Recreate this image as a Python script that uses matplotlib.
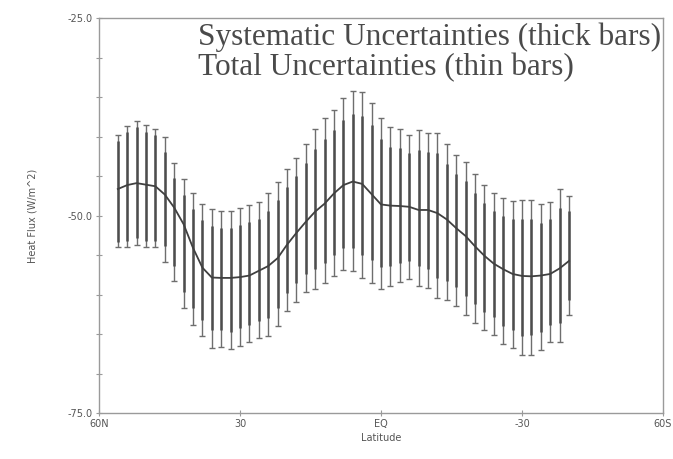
import numpy as np
import matplotlib
matplotlib.use("Agg")
import matplotlib.pyplot as plt

# Latitude of each estimate (degrees, north positive)
latitudes = list(range(56, -41, -2))

# Mean heat flux (W/m^2)
mean_flux = [-46.65, -46.15, -45.9, -46.1, -46.3, -47.35, -49.0, -51.1, -54.1, -56.6,
             -57.85, -57.9, -57.9, -57.8, -57.6, -57.0, -56.4, -55.4, -53.7, -52.2,
             -50.8, -49.5, -48.5, -47.2, -46.15, -45.7, -46.0, -47.3, -48.6, -48.75,
             -48.8, -48.9, -49.3, -49.3, -49.7, -50.5, -51.6, -52.6, -53.9, -55.1,
             -56.1, -56.8, -57.4, -57.65, -57.7, -57.6, -57.4, -56.7, -55.75]

# Total uncertainty range (thin bars)
total_top = [-39.85, -38.65, -38.0, -38.6, -39.1, -40.0, -43.3, -45.4, -47.1, -48.5,
             -49.15, -49.4, -49.4, -49.0, -48.7, -48.3, -47.1, -45.8, -44.1, -42.7,
             -41.0, -39.0, -37.7, -36.6, -35.15, -34.2, -34.4, -35.7, -37.6, -38.85,
             -39.1, -39.8, -39.2, -39.5, -39.5, -41.0, -42.4, -43.2, -44.8, -46.1,
             -47.2, -47.8, -48.2, -48.05, -48.0, -48.6, -48.3, -46.6, -47.55]
total_bottom = [-54.05, -54.05, -53.7, -54.0, -54.0, -55.85, -58.3, -61.7, -63.8, -65.3,
                -66.75, -66.7, -66.9, -66.5, -66.0, -65.5, -65.3, -64.0, -62.1, -60.9,
                -59.7, -59.3, -58.6, -57.6, -56.85, -57.0, -57.9, -58.5, -59.3, -58.95,
                -58.4, -58.0, -58.9, -59.2, -60.5, -60.7, -61.5, -62.6, -63.6, -64.5,
                -65.1, -66.3, -66.8, -67.65, -67.6, -67.0, -66.0, -66.0, -62.55]

# Systematic uncertainty range (thick bars)
sys_top = [-40.55, -39.45, -38.8, -39.4, -39.85, -42.0, -45.2, -47.45, -49.2, -50.6,
           -51.35, -51.55, -51.6, -51.2, -50.85, -50.45, -49.4, -48.1, -46.35, -45.0,
           -43.35, -41.55, -40.35, -39.2, -37.9, -37.1, -37.35, -38.55, -40.35, -41.35,
           -41.5, -42.1, -41.65, -41.95, -42.1, -43.45, -44.8, -45.6, -47.15, -48.4,
           -49.45, -50.1, -50.5, -50.5, -50.45, -50.9, -50.5, -49.0, -49.45]
sys_bottom = [-53.35, -53.25, -52.9, -53.2, -53.25, -53.8, -56.4, -59.65, -61.7, -63.2,
              -64.55, -64.55, -64.7, -64.3, -63.85, -63.35, -63.0, -61.7, -59.85, -58.6,
              -57.35, -56.75, -55.95, -55.0, -54.1, -54.1, -54.95, -55.65, -56.55, -56.45,
              -56.0, -55.7, -56.45, -56.75, -57.9, -58.25, -59.1, -60.2, -61.25, -62.2,
              -62.85, -64.0, -64.5, -65.2, -65.15, -64.7, -63.8, -63.6, -60.65]

xtick_vals = [60, 30, 0, -30, -60]
xtick_labels = ["60N", "30", "EQ", "-30", "60S"]
ytick_vals = [-25.0, -50.0, -75.0]
ytick_labels = ["-25.0", "-50.0", "-75.0"]

fig = plt.figure(figsize=(6.73, 4.59), dpi=100)
ax = fig.add_axes([99 / 673, 1 - 413 / 459, (663 - 99) / 673, (413 - 18) / 459])

thick_c = "#4d4d4d"
thin_c = "#6e6e6e"
frame_c = "#9a9a9a"
text_c = "#555555"

lat = np.array(latitudes)
# thin bars (total) with caps
ax.vlines(lat, total_bottom, total_top, color=thin_c, lw=1.0, zorder=2)
ax.hlines(total_top, lat + 0.65, lat - 0.65, color=thin_c, lw=1.0, zorder=2)
ax.hlines(total_bottom, lat + 0.65, lat - 0.65, color=thin_c, lw=1.0, zorder=2)
# thick bars (systematic)
ax.vlines(lat, sys_bottom, sys_top, color=thick_c, lw=1.8, zorder=3)
# mean curve
ax.plot(lat, mean_flux, color="#404040", lw=1.3, zorder=4)

ax.set_xlim(60, -60)
ax.set_ylim(-75, -25)
ax.set_xticks(xtick_vals)
ax.set_xticklabels(xtick_labels)
ax.set_yticks(ytick_vals)
ax.set_yticklabels(ytick_labels)
ax.set_yticks(np.arange(-70, -25, 5), minor=True)
ax.tick_params(axis="both", which="major", labelsize=7, colors=frame_c, labelcolor=text_c,
               direction="inout", length=5, width=0.8, pad=2)
ax.tick_params(axis="y", which="minor", colors=frame_c, direction="inout", length=5, width=0.8)
for s in ax.spines.values():
    s.set_color(frame_c)
    s.set_linewidth(1.0)

ax.set_xlabel("Latitude", fontsize=7, color=text_c, labelpad=3)
ax.set_ylabel("Heat Flux (W/m^2)", fontsize=7, color=text_c, labelpad=22)

ax.text(0.175, 0.988, "Systematic Uncertainties (thick bars)\nTotal Uncertainties (thin bars)",
        transform=ax.transAxes, ha="left", va="top", fontsize=22.5,
        family="Liberation Serif", color="#4a4a4a", linespacing=1.05)

fig.savefig("out.png", dpi=100, facecolor="white")
